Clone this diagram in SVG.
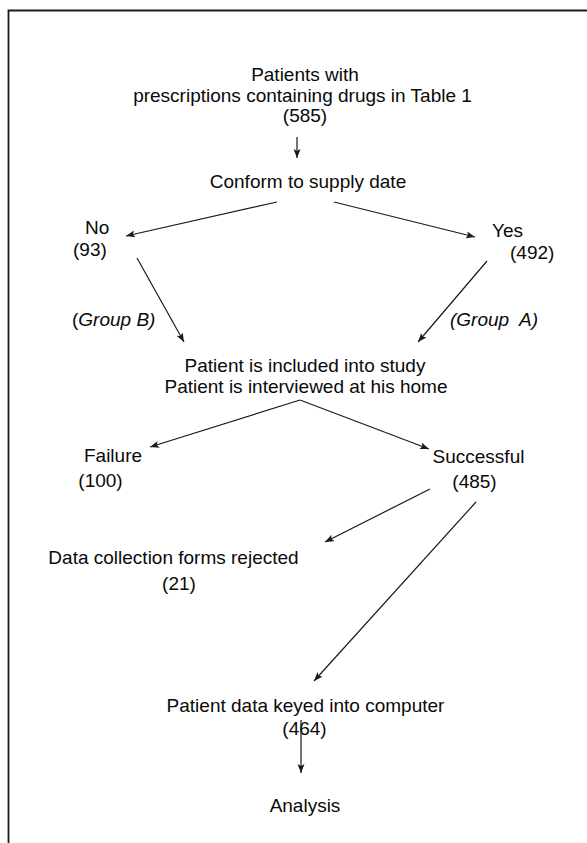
<svg xmlns="http://www.w3.org/2000/svg" width="587" height="843" viewBox="0 0 587 843">
<style>
text{font-family:"Liberation Sans",Arial,sans-serif;font-size:19px;fill:#0a0a0a;text-anchor:middle}
.l{text-anchor:start}
.it{font-style:italic}
.c{stroke:#1a1a1a;stroke-width:1.2;fill:none}
.a{marker-end:url(#ah)}
.frame{stroke:#1a1a1a;stroke-width:1.8;fill:none}
</style>
<defs>
<marker id="ah" markerUnits="userSpaceOnUse" markerWidth="10" markerHeight="8" refX="9" refY="3.5" orient="auto">
<path d="M0,0 L9,3.5 L0,7 L2,3.5 z" fill="#1a1a1a"/>
</marker>
</defs>
<path class="frame" d="M8.5,843 V10.5 H587"/>
<g id="n_patients"><text x="305" y="81">Patients with</text><text x="302.5" y="101.5">prescriptions containing drugs in Table 1</text><text x="305" y="122">(585)</text></g>
<g id="n_conform"><text x="308" y="188">Conform to supply date</text></g>
<g id="n_no"><text class="l" x="85" y="234">No</text><text class="l" x="73" y="256">(93)</text></g>
<g id="n_yes"><text class="l" x="492" y="237">Yes</text><text class="l" x="510" y="259">(492)</text></g>
<g id="n_groupB"><text class="l" x="72" y="326">(<tspan class="it">Group B)</tspan></text></g>
<g id="n_groupA"><text class="l it" x="450" y="326" xml:space="preserve">(Group  A)</text></g>
<g id="n_included"><text x="305" y="372">Patient is included into study</text><text x="306" y="393">Patient is interviewed at his home</text></g>
<g id="n_failure"><text x="113" y="462">Failure</text><text x="100.5" y="487">(100)</text></g>
<g id="n_success"><text x="478.5" y="463">Successful</text><text x="474.5" y="488">(485)</text></g>
<g id="n_rejected"><text x="173.5" y="564">Data collection forms rejected</text><text x="179" y="590">(21)</text></g>
<g id="n_keyed"><text x="305.5" y="712">Patient data keyed into computer</text><text x="304.5" y="735">(464)</text></g>
<g id="n_analysis"><text x="305" y="812">Analysis</text></g>
<g id="connectors">
<path class="c a" d="M297,137 V158"/>
<path class="c a" d="M277,202 L126,236"/>
<path class="c a" d="M334,202 L475,237"/>
<path class="c a" d="M137,258 L184,342"/>
<path class="c a" d="M487,261 L418,342"/>
<path class="c a" d="M300,400 L150,447"/>
<path class="c a" d="M300,400 L429,449"/>
<path class="c a" d="M430,489 L325,542"/>
<path class="c a" d="M476,502 L314,681"/>
<path class="c a" d="M301,720 V773"/>
</g>
</svg>
